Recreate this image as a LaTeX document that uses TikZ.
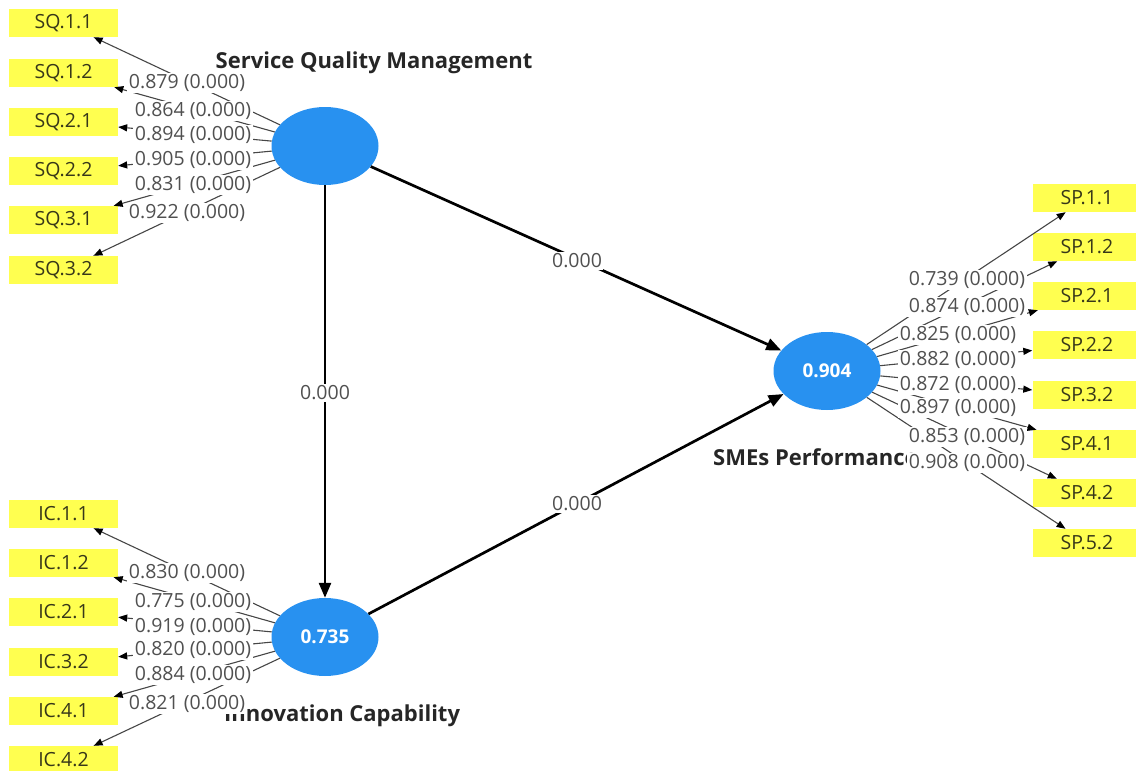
\documentclass[tikz,border=0pt]{standalone}
\usepackage{fontspec}
\setmainfont{Open Sans}
\usetikzlibrary{shapes.geometric,arrows.meta}
\definecolor{lvblue}{RGB}{40,145,240}
\definecolor{indyellow}{RGB}{255,255,80}
\definecolor{indtext}{RGB}{55,55,25}
\definecolor{labgray}{RGB}{80,80,80}
\definecolor{linegray}{RGB}{70,70,70}
\tikzset{
 lv/.style={ellipse, fill=lvblue, minimum width=107pt, minimum height=78pt, inner sep=0pt, text=white, font=\fontsize{19}{21}\selectfont\bfseries},
 ind/.style={rectangle, fill=indyellow, minimum width=109pt, minimum height=28pt, inner sep=0pt, text=indtext, font=\fontsize{19.5}{21}\selectfont},
 lvname/.style={inner sep=0pt, text=black!85, font=\fontsize{22}{24}\selectfont\bfseries},
 load/.style={draw=linegray, line width=1.1pt, -{Triangle[length=9pt,width=7pt,color=black]}},
 pathline/.style={draw=black, line width=2.7pt, -{Triangle[length=15pt,width=12pt]}},
 lab/.style={fill=white, inner sep=1.5pt, text=labgray, font=\fontsize{19.5}{21}\selectfont},
}
\begin{document}
\begin{tikzpicture}[x=1pt,y=-1pt]
\useasboundingbox (0,0) rectangle (1136,771);
\clip (0,0) rectangle (1136,771);
% constructs
\node[lv] (sq) at (325,146) {};
\node[lv] (ic) at (325,637) {0.735};
\node[lv] (sp) at (827,371) {0.904};
% construct names
\node[lvname] (sqname) at (374,63) {Service Quality Management};
\node[lvname, anchor=west] (spname) at (713,457) {SMEs Performance};
\node[lvname, anchor=west] (icname) at (224,716) {Innovation Capability};
% indicators SQ
\node[ind] (sq11) at (63.5,23) {SQ.1.1};
\node[ind] (sq12) at (63.5,73) {SQ.1.2};
\node[ind] (sq21) at (63.5,122) {SQ.2.1};
\node[ind] (sq22) at (63.5,171) {SQ.2.2};
\node[ind] (sq31) at (63.5,220) {SQ.3.1};
\node[ind] (sq32) at (63.5,270) {SQ.3.2};
% indicators IC
\node[ind] (ic11) at (63.5,514) {IC.1.1};
\node[ind] (ic12) at (63.5,563) {IC.1.2};
\node[ind] (ic21) at (63.5,612) {IC.2.1};
\node[ind] (ic32) at (63.5,662) {IC.3.2};
\node[ind] (ic41) at (63.5,711) {IC.4.1};
\node[ind] (ic42) at (63.5,760) {IC.4.2};
% indicators SP
\node[ind] (sp11) at (1087,198) {SP.1.1};
\node[ind] (sp12) at (1087,247) {SP.1.2};
\node[ind] (sp21) at (1087,296) {SP.2.1};
\node[ind] (sp22) at (1087,345) {SP.2.2};
\node[ind] (sp32) at (1087,395) {SP.3.2};
\node[ind] (sp41) at (1087,444) {SP.4.1};
\node[ind] (sp42) at (1087,493) {SP.4.2};
\node[ind] (sp52) at (1087,543) {SP.5.2};
% loading arrows
\foreach \t in {sq11,sq12,sq21,sq22,sq31,sq32} {\draw[load] (sq) -- (\t);}
\foreach \t in {ic11,ic12,ic21,ic32,ic41,ic42} {\draw[load] (ic) -- (\t);}
\foreach \t in {sp11,sp12,sp21,sp22,sp32,sp41,sp42,sp52} {\draw[load] (sp) -- (\t);}
% structural paths
\draw[pathline] (sq) -- (sp);
\draw[pathline] (sq) -- (ic);
\draw[pathline] (ic) -- (sp);
\node[lab] (p1) at (577,261) {0.000};
\node[lab] (p2) at (325,393) {0.000};
\node[lab] (p3) at (577,504) {0.000};
% loading labels SQ
\node[lab] (l1) at (187,83) {0.879 (0.000)};
\node[lab] (l2) at (193,111) {0.864 (0.000)};
\node[lab] (l3) at (193,135) {0.894 (0.000)};
\node[lab] (l4) at (193,160) {0.905 (0.000)};
\node[lab] (l5) at (193,185) {0.831 (0.000)};
\node[lab] (l6) at (187,213) {0.922 (0.000)};
% loading labels IC
\node[lab] (m1) at (187,573) {0.830 (0.000)};
\node[lab] (m2) at (193,602) {0.775 (0.000)};
\node[lab] (m3) at (193,627) {0.919 (0.000)};
\node[lab] (m4) at (193,650) {0.820 (0.000)};
\node[lab] (m5) at (193,675) {0.884 (0.000)};
\node[lab] (m6) at (187,704) {0.821 (0.000)};
% loading labels SP
\node[lab] (n1) at (967,280) {0.739 (0.000)};
\node[lab] (n2) at (967,307) {0.874 (0.000)};
\node[lab] (n3) at (958,335) {0.825 (0.000)};
\node[lab] (n4) at (958,360) {0.882 (0.000)};
\node[lab] (n5) at (958,385) {0.872 (0.000)};
\node[lab] (n6) at (958,408) {0.897 (0.000)};
\node[lab] (n7) at (967,437) {0.853 (0.000)};
\node[lab] (n8) at (967,463) {0.908 (0.000)};
\end{tikzpicture}
\end{document}
